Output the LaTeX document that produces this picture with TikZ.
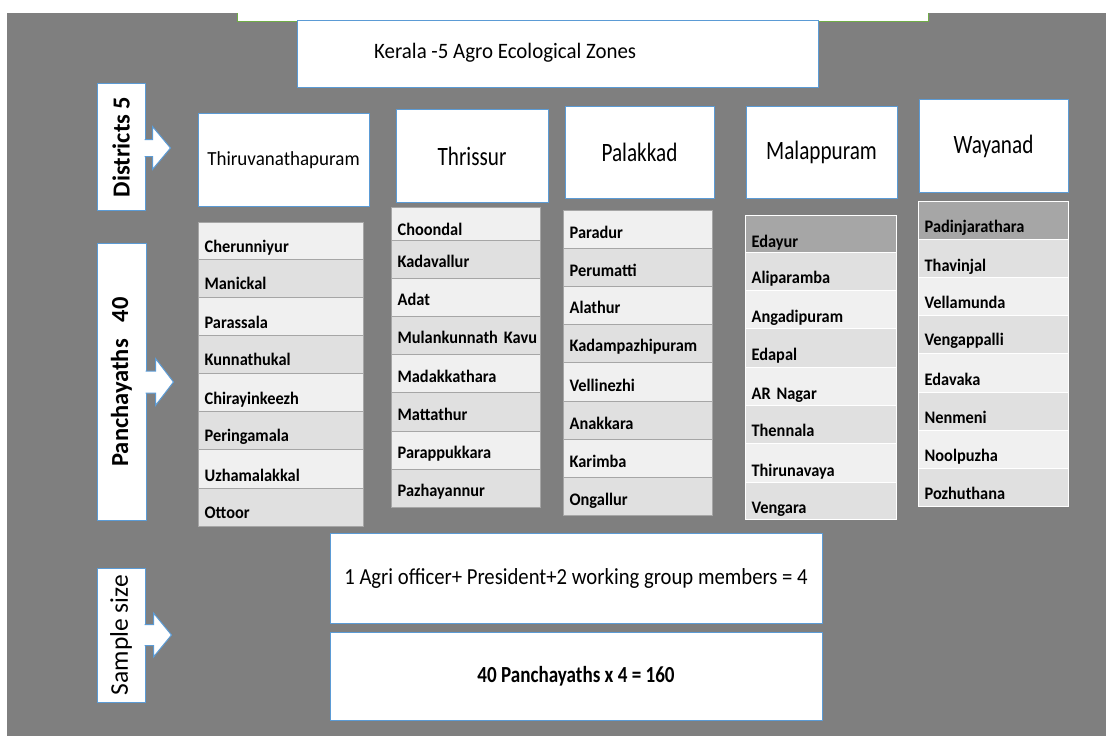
\documentclass[tikz,border=0pt]{standalone}
\usepackage{fontspec}
\setmainfont{Carlito}
\usetikzlibrary{calc}

\definecolor{bg}{RGB}{127,127,127}
\definecolor{blueline}{RGB}{91,155,213}
\definecolor{greenline}{RGB}{112,173,71}
\definecolor{cellA}{RGB}{240,240,240}
\definecolor{cellB}{RGB}{224,224,224}
\definecolor{cellC}{RGB}{166,166,166}
\definecolor{cellline}{RGB}{166,166,166}

% size in bp, horizontal stretch factor
\newcommand\narrowfont[2]{\fontsize{#1bp}{#1bp}\selectfont\addfontfeature{FakeStretch=#2}}

\tikzset{
  box/.style={rectangle, draw=blueline, fill=white, line width=1bp, inner sep=0pt},
  hdr/.style={box, font=\narrowfont{26.5}{0.8}},
  vlabel/.style={box, rotate=90, font=\bfseries\narrowfont{24.5}{1}},
  cell/.style={rectangle, anchor=north west, inner xsep=6bp, inner ysep=0pt,
    align=left, line width=1.2bp, font=\bfseries\narrowfont{17.6}{0.93}},
  graycells/.style={draw=cellline},
  whitecells/.style={draw=white},
  barrow/.style={fill=white, draw=blueline, line width=1bp, line join=miter}
}

% #1 name prefix, #2 left x, #3 width, #4 style, #5 rows top/bottom/baseline offset/fill/text
\newcommand\drawlist[5]{%
  \pgfmathsetmacro\listtw{#3-12}%
  \foreach[count=\i] \ya/\yb/\yo/\cf/\lbl in {#5}{%
    \pgfmathsetmacro\cellht{\yb-\ya-\yo}%
    \node[cell, #4, fill=\cf, text width=\listtw bp, text height=\cellht bp,
      text depth=\yo bp] (#1\i) at (#2,\ya) {\mbox{\lbl}\hfill};
  }%
}

% block arrow leaving the right side of a (rotated) label box
% #1 node, #2 axis offset, #3 shaft length, #4 shaft half height, #5 head half height, #6 head length
\newcommand\blockarrow[6]{%
  \path[barrow] ($(#1.south)+(-1,#2-#4)$) -- ++(#3+1,0) -- ++(0,#4-#5)
    -- ++(#6,#5) -- ++(-#6,#5) -- ++(0,#4-#5) -- ++(-#3-1,0);
}

\begin{document}
\begin{tikzpicture}[x=1bp,y=-1bp]
\useasboundingbox (0,0) rectangle (1106,736);
\fill[bg] (7,13) rectangle (1106,736);

% title area
\node[rectangle, fill=white, minimum width=690bp, minimum height=8bp, inner sep=0pt]
  (topbar) at (583,17) {};
\draw[greenline, line width=1.2bp] (topbar.north west) |- (topbar.south east) -- (topbar.north east);
\node[box, minimum width=521bp, minimum height=66bp] (kerala) at (557.5,54) {};
\node[inner sep=0pt, anchor=west, font=\narrowfont{22}{0.95}]
  (keralatxt) at (374,53) {Kerala -5 Agro Ecological Zones};

% row labels
\node[vlabel, minimum width=126bp, minimum height=48bp] (dist) at (121,147) {Districts 5};
\node[vlabel, minimum width=276bp, minimum height=49bp] (panch) at (121.5,382)
  {Panchayaths\hspace{17bp}40};
\node[vlabel, minimum width=134bp, minimum height=48bp,
  font=\narrowfont{25.5}{1}] (sample) at (121,635) {Sample size};
\blockarrow{dist}{1}{7}{8.5}{21.5}{18}
\blockarrow{panch}{0}{9}{11}{23.5}{18}
\blockarrow{sample}{0}{8}{10.5}{22}{18}

% districts
\node[hdr, minimum width=171bp, minimum height=92bp, font=\narrowfont{20}{0.95}]
  (thv) at (283.5,160) {Thiruvanathapuram};
\node[hdr, minimum width=152bp, minimum height=92bp] (thr) at (472,156) {Thrissur};
\node[hdr, minimum width=149bp, minimum height=91bp] (pal) at (639.5,152.5) {Palakkad};
\node[hdr, minimum width=151bp, minimum height=91bp] (mal) at (821.5,152.5) {Malappuram};
\node[hdr, minimum width=149bp, minimum height=92bp] (way) at (993.5,146) {Wayanad};

% panchayath lists
\drawlist{tv}{198}{165}{graycells}{222/259/7/cellA/Cherunniyur, 259/297/8/cellB/Manickal,
  297/335/7/cellA/Parassala, 335/373/8/cellB/Kunnathukal, 373/411/7/cellA/Chirayinkeezh,
  411/449/8/cellB/Peringamala, 449/488/7/cellA/Uzhamalakkal, 488/526/8/cellB/Ottoor}
\drawlist{ts}{391}{149}{graycells}{207/240/5/cellA/Choondal, 240/278/11/cellB/Kadavallur,
  278/316/11/cellA/Adat, 316/354/11/cellB/Mulankunnath Kavu, 354/392/10/cellA/Madakkathara,
  392/431/11/cellB/Mattathur, 431/469/11/cellA/Parappukkara, 469/507/11/cellB/Pazhayannur}
\drawlist{pk}{563}{149}{graycells}{210/248/10/cellA/Paradur, 248/286/10/cellB/Perumatti,
  286/324/11/cellA/Alathur, 324/362/11/cellB/Kadampazhipuram, 362/401/10/cellA/Vellinezhi,
  401/439/10/cellB/Anakkara, 439/477/10/cellA/Karimba, 477/515/10/cellB/Ongallur}
\drawlist{mp}{745}{151}{whitecells}{215/252/5/cellC/Edayur, 252/290/7/cellB/Aliparamba,
  290/328/6/cellA/Angadipuram, 328/367/7/cellB/Edapal, 367/405/6/cellA/AR Nagar,
  405/443/7/cellB/Thennala, 443/482/6/cellA/Thirunavaya, 482/519/6/cellB/Vengara}
\drawlist{wy}{918}{150}{whitecells}{201/239/7/cellC/Padinjarathara, 239/277/6/cellB/Thavinjal,
  277/315/7/cellA/Vellamunda, 315/353/8/cellB/Vengappalli, 353/392/7/cellA/Edavaka,
  392/430/7/cellB/Nenmeni, 430/468/7/cellA/Noolpuzha, 468/506/7/cellB/Pozhuthana}

% sample size
\node[box, minimum width=492bp, minimum height=90bp, font=\narrowfont{23}{0.9}]
  (agri) at (576,578) {1 Agri officer+ President+2 working group members = 4};
\node[box, minimum width=492bp, minimum height=88bp, font=\bfseries\narrowfont{23}{0.83}]
  (total) at (576,676) {40 Panchayaths x 4 = 160};
\end{tikzpicture}
\end{document}
